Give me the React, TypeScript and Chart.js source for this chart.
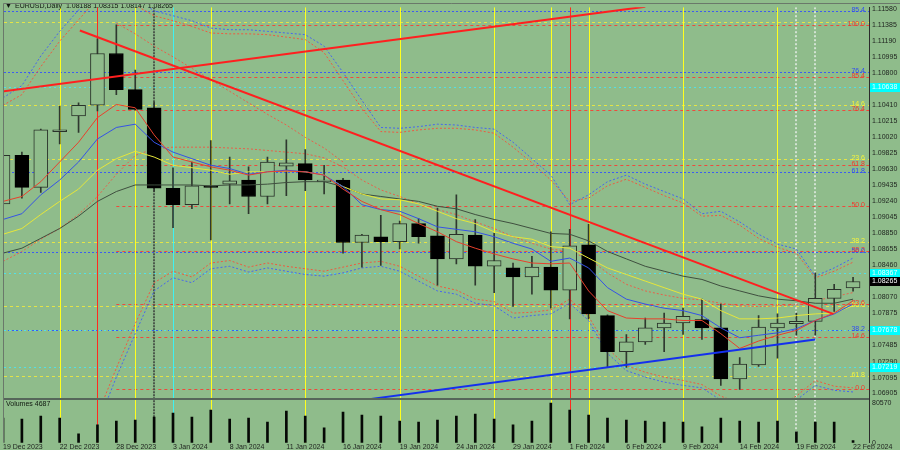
import React, { useEffect, useRef } from "react";
import { Chart, registerables } from "chart.js";

Chart.register(...registerables);

const FONT = "'Liberation Sans', Arial, sans-serif";
const BG = "#8fbc8b";

// ---------- data ----------
const dates = [
  "19 Dec 2023", "20 Dec 2023", "21 Dec 2023", "22 Dec 2023", "26 Dec 2023", "27 Dec 2023", "28 Dec 2023", "29 Dec 2023",
  "2 Jan 2024", "3 Jan 2024", "4 Jan 2024", "5 Jan 2024", "8 Jan 2024", "9 Jan 2024", "10 Jan 2024", "11 Jan 2024",
  "12 Jan 2024", "15 Jan 2024", "16 Jan 2024", "17 Jan 2024", "18 Jan 2024", "19 Jan 2024", "22 Jan 2024", "23 Jan 2024",
  "24 Jan 2024", "25 Jan 2024", "26 Jan 2024", "29 Jan 2024", "30 Jan 2024", "31 Jan 2024", "1 Feb 2024", "2 Feb 2024",
  "5 Feb 2024", "6 Feb 2024", "7 Feb 2024", "8 Feb 2024", "9 Feb 2024", "12 Feb 2024", "13 Feb 2024", "14 Feb 2024",
  "15 Feb 2024", "16 Feb 2024", "19 Feb 2024", "20 Feb 2024", "21 Feb 2024", "22 Feb 2024",
];
const dateTickIdx = [0, 3, 6, 9, 12, 15, 18, 21, 24, 27, 30, 33, 36, 39, 42, 45];

const opens = [1.0921, 1.0980, 1.0941, 1.1009, 1.1028, 1.1041, 1.1104, 1.1060, 1.1038, 1.0940, 1.0920, 1.0943, 1.0945, 1.0950, 1.0930, 1.0967, 1.0970, 1.0948, 1.0950, 1.0874, 1.0881, 1.0875, 1.0897, 1.0882, 1.0854, 1.0883, 1.0845, 1.0843, 1.0832, 1.0844, 1.0816, 1.0871, 1.0785, 1.0741, 1.0753, 1.0770, 1.0776, 1.0780, 1.0770, 1.0708, 1.0725, 1.0770, 1.0775, 1.0778, 1.0806, 1.08188];
const highs = [1.0987, 1.0984, 1.1012, 1.1040, 1.1044, 1.1122, 1.1139, 1.1084, 1.1045, 1.0965, 1.0972, 1.0998, 1.0978, 1.0966, 1.0978, 1.0999, 1.0987, 1.0968, 1.0952, 1.0884, 1.0907, 1.0900, 1.0903, 1.0916, 1.0932, 1.0902, 1.0885, 1.0849, 1.0857, 1.0887, 1.0890, 1.0896, 1.0786, 1.0762, 1.0782, 1.0788, 1.0794, 1.0805, 1.0799, 1.0734, 1.0785, 1.0787, 1.0788, 1.0837, 1.0823, 1.08315];
const lows = [1.0915, 1.0928, 1.0935, 1.0994, 1.1008, 1.1034, 1.1054, 1.1035, 1.0936, 1.0892, 1.0915, 1.0877, 1.0921, 1.0909, 1.0921, 1.0931, 1.0937, 1.0933, 1.0861, 1.0844, 1.0846, 1.0866, 1.0873, 1.0822, 1.0848, 1.0822, 1.0813, 1.0796, 1.0811, 1.0794, 1.0781, 1.0781, 1.0722, 1.0722, 1.0750, 1.0741, 1.0762, 1.0756, 1.0700, 1.0695, 1.0723, 1.0733, 1.0761, 1.0761, 1.0790, 1.08147];
const closes = [1.0980, 1.0941, 1.1011, 1.1011, 1.1041, 1.1104, 1.1060, 1.1036, 1.0940, 1.0920, 1.0943, 1.0941, 1.0949, 1.0930, 1.0972, 1.0971, 1.0950, 1.0950, 1.0874, 1.0883, 1.0875, 1.0897, 1.0881, 1.0854, 1.0884, 1.0845, 1.0852, 1.0832, 1.0844, 1.0816, 1.0870, 1.0787, 1.0741, 1.0753, 1.0770, 1.0776, 1.0784, 1.0770, 1.0708, 1.0726, 1.0771, 1.0776, 1.0778, 1.0806, 1.0817, 1.08265];
const volumes = [50350, 48340, 54380, 50350, 18130, 36250, 44310, 46320, 52360, 60420, 52360, 66460, 48340, 50350, 42290, 64450, 54380, 30210, 62430, 56390, 54380, 44310, 42290, 46320, 54380, 58410, 48340, 36250, 44310, 80570, 66460, 56390, 50350, 46320, 44310, 42290, 42290, 32220, 50350, 44310, 42290, 44310, 22150, 42290, 42290, 4687];

const maRed = [1.0924, 1.0930, 1.0948, 1.0972, 1.0996, 1.1026, 1.1042, 1.1038, 1.1005, 1.0978, 1.0972, 1.0966, 1.0962, 1.0956, 1.0960, 1.0961, 1.0960, 1.0956, 1.0939, 1.0924, 1.0914, 1.0908, 1.0897, 1.0887, 1.0875, 1.0867, 1.0860, 1.0854, 1.0849, 1.0848, 1.0849, 1.0815, 1.0791, 1.0782, 1.0781, 1.0781, 1.0779, 1.0779, 1.0763, 1.0745, 1.0754, 1.0761, 1.0767, 1.0779, 1.0788, 1.0803];
const maBlue = [1.0902, 1.0909, 1.0932, 1.0950, 1.0972, 1.1000, 1.1014, 1.1018, 1.0996, 1.0984, 1.0976, 1.0968, 1.0964, 1.0957, 1.0960, 1.0962, 1.0960, 1.0956, 1.0942, 1.0920, 1.0914, 1.0912, 1.0903, 1.0893, 1.0890, 1.0887, 1.0881, 1.0873, 1.0866, 1.0851, 1.0855, 1.0843, 1.0819, 1.0805, 1.0799, 1.0794, 1.0791, 1.0785, 1.0770, 1.0758, 1.0761, 1.0764, 1.0769, 1.0779, 1.0787, 1.0799];
const maYellow = [1.0884, 1.0891, 1.0908, 1.0924, 1.0939, 1.0962, 1.0976, 1.0985, 1.0978, 1.0968, 1.0965, 1.0962, 1.0957, 1.0960, 1.0960, 1.0961, 1.0960, 1.0956, 1.0942, 1.0933, 1.0927, 1.0926, 1.0921, 1.0912, 1.0903, 1.0897, 1.0887, 1.0881, 1.0878, 1.0869, 1.0867, 1.0855, 1.0843, 1.0835, 1.0827, 1.0819, 1.0811, 1.0805, 1.0791, 1.0781, 1.0781, 1.0782, 1.0785, 1.0787, 1.0788, 1.0797];
const maDark = [1.0861, 1.0867, 1.0879, 1.0891, 1.0906, 1.0924, 1.0936, 1.0944, 1.0944, 1.0944, 1.0944, 1.0943, 1.0944, 1.0944, 1.0945, 1.0947, 1.0948, 1.0948, 1.0942, 1.0933, 1.0930, 1.0927, 1.0924, 1.0918, 1.0915, 1.0908, 1.0902, 1.0897, 1.0891, 1.0885, 1.0884, 1.0876, 1.0863, 1.0854, 1.0845, 1.0839, 1.0833, 1.0829, 1.0821, 1.0815, 1.0809, 1.0805, 1.0803, 1.0800, 1.0800, 1.0805];

const bandUpperBlue = [1.1050, 1.1065, 1.1101, 1.1131, 1.1157, 1.1183, 1.1183, 1.1171, 1.1156, 1.1150, 1.1144, 1.1135, 1.1133, 1.1133, 1.1131, 1.1129, 1.1127, 1.1113, 1.1081, 1.1047, 1.1014, 1.1013, 1.1015, 1.1018, 1.1017, 1.1014, 1.1012, 1.0996, 1.0976, 1.0956, 1.0920, 1.0932, 1.0948, 1.0956, 1.0945, 1.0936, 1.0927, 1.0909, 1.0912, 1.0899, 1.0884, 1.0872, 1.0866, 1.0833, 1.0843, 1.0855];
const bandUpperRed = [1.1041, 1.1054, 1.1088, 1.1119, 1.1145, 1.1171, 1.1175, 1.1163, 1.1150, 1.1144, 1.1137, 1.1129, 1.1128, 1.1128, 1.1127, 1.1124, 1.1121, 1.1105, 1.1071, 1.1037, 1.1009, 1.1008, 1.1011, 1.1013, 1.1013, 1.1011, 1.1007, 1.0990, 1.0971, 1.0950, 1.0924, 1.0928, 1.0943, 1.0951, 1.0941, 1.0931, 1.0922, 1.0906, 1.0907, 1.0895, 1.0879, 1.0868, 1.0861, 1.0831, 1.0839, 1.0850];
const bandLowerBlue = [1.0646, 1.0634, 1.0622, 1.0616, 1.0628, 1.0652, 1.0710, 1.0763, 1.0815, 1.0831, 1.0825, 1.0842, 1.0845, 1.0838, 1.0843, 1.0839, 1.0835, 1.0833, 1.0837, 1.0843, 1.0845, 1.0839, 1.0827, 1.0815, 1.0811, 1.0800, 1.0797, 1.0782, 1.0785, 1.0787, 1.0800, 1.0779, 1.0739, 1.0718, 1.0710, 1.0704, 1.0700, 1.0697, 1.0682, 1.0674, 1.0670, 1.0670, 1.0682, 1.0700, 1.0694, 1.0692];
const bandLowerRed = [1.0655, 1.0643, 1.0631, 1.0625, 1.0637, 1.0664, 1.0721, 1.0775, 1.0825, 1.0839, 1.0832, 1.0849, 1.0852, 1.0844, 1.0849, 1.0845, 1.0842, 1.0839, 1.0844, 1.0849, 1.0851, 1.0845, 1.0833, 1.0821, 1.0816, 1.0805, 1.0802, 1.0788, 1.0789, 1.0792, 1.0805, 1.0784, 1.0745, 1.0724, 1.0716, 1.0710, 1.0706, 1.0701, 1.0687, 1.0678, 1.0675, 1.0675, 1.0687, 1.0706, 1.0699, 1.0697];
const innerRed = [1.0851, 1.0863, 1.0878, 1.0891, 1.0908, 1.0930, 1.0957, 1.0980, 1.0988, 1.0990, 1.0990, 1.0990, 1.0989, 1.0988, 1.0986, 1.0984, 1.0982, 1.0977, 1.0966, 1.0950, 1.0938, 1.0930, 1.0921, 1.0914, 1.0908, 1.0899, 1.0891, 1.0881, 1.0873, 1.0866, 1.0863, 1.0854, 1.0837, 1.0823, 1.0815, 1.0810, 1.0806, 1.0804, 1.0800, 1.0797, 1.0796, 1.0797, 1.0798, 1.0803, 1.0808, 1.0813];
const innerRedDiag = [null, null, null, null, null, null, 1.1141, 1.1128, 1.1113, 1.1100, 1.1086, 1.1072, 1.1058, 1.1044, 1.1030, 1.1017, 1.1002, 1.0989, 1.0972, null, null, null, null, null, null, null, null, null, null, null, null, null, null, null, null, null, null, null, null, null, null, null, null, null, null, null];

// trend lines (bar index, price)
const trendUpIdx = [0, 34];
const trendUpPrice = [1.1058, 1.1161];
const trendDownIdx = [4.07, 43.95];
const trendDownPrice = [1.1132, 1.0787];
const trendBlueIdx = [19, 43];
const trendBluePrice = [1.0682, 1.0756];

// fibonacci levels
const fibBlueLabels = ["85.4", "76.4", "61.8", "50.0", "38.2"];
const fibBluePrices = [1.1156, 1.1081, 1.0960, 1.0862, 1.0767];
const fibRedLabels = ["100.0", "85.4", "76.4", "61.8", "50.0", "38.2", "23.6", "14.6", "0.0"];
const fibRedPrices = [1.1139, 1.1075, 1.1035, 1.0968, 1.0918, 1.0864, 1.0799, 1.0759, 1.0695];
const fibRedStartIdx = 6;
const fibYellowLabels = ["", "14.6", "23.6", "38.2", "50.0", "61.8"];
const fibYellowPrices = [1.1143, 1.1041, 1.0976, 1.0875, 1.0797, 1.0712];
const cyanPrices = [1.10638, 1.08367, 1.07678, 1.07219];
const lastPrice = 1.08265;

// vertical markers (bar index)
const yellowV = [3, 7, 11, 16, 21, 26, 29, 31, 36, 41];
const redV = [5, 30];
const greyV = [8];
const cyanV = [9];
const paleV = [42, 43];

const priceTicks = [1.1158, 1.11385, 1.1119, 1.10995, 1.108, 1.10605, 1.1041, 1.10215, 1.1002, 1.09825, 1.0963, 1.09435, 1.0924, 1.09045, 1.0885, 1.08655, 1.0846, 1.08265, 1.0807, 1.07875, 1.0768, 1.07485, 1.0729, 1.07095, 1.06905];
const volumeTicks = [0, 80570];

const titleText = "EURUSD,Daily  1.08188 1.08315 1.08147 1.08265";
const volumeText = "Volumes 4687";

// ---------- view settings ----------
const X_MIN = 0.053;
const X_MAX = 45.844;
const P_MIN = 1.068326;
const P_MAX = 1.116042;
const V_MAX = 88627;

export default function App() {
  const ref = useRef<HTMLCanvasElement | null>(null);

  useEffect(() => {
    document.body.style.margin = "0";
    const canvas = ref.current;
    if (!canvas) return;
    const n = dates.length;
    const idx = Array.from({ length: n }, (_, i) => i);
    const pts = (arr: (number | null)[]) => idx.map((i) => ({ x: i, y: arr[i] }));
    const bull = (i: number) => closes[i] >= opens[i];

    const lineDs = (data: any, color: string, width: number, dash: number[], order: number) => ({
      type: "line" as const,
      data,
      borderColor: color,
      borderWidth: width,
      borderDash: dash,
      pointRadius: 0,
      tension: 0,
      fill: false,
      spanGaps: false,
      xAxisID: "x",
      yAxisID: "y",
      order,
    });

    const overlay = {
      id: "overlay",
      beforeDraw(chart: any) {
        const { ctx, width, height } = chart;
        ctx.save();
        ctx.fillStyle = BG;
        ctx.fillRect(0, 0, width, height);
        ctx.restore();
      },
      beforeDatasetsDraw(chart: any) {
        const { ctx, chartArea: ca } = chart;
        const xs = chart.scales.x;
        const ys = chart.scales.y;
        ctx.save();
        ctx.beginPath();
        ctx.rect(ca.left, ys.top, ca.right - ca.left, ys.bottom - ys.top);
        ctx.clip();
        const hline = (p: number, color: string, dash: number[], x0: number) => {
          const py = Math.round(ys.getPixelForValue(p)) + 0.5;
          ctx.strokeStyle = color;
          ctx.lineWidth = 1;
          ctx.setLineDash(dash);
          ctx.beginPath();
          ctx.moveTo(x0, py);
          ctx.lineTo(ca.right, py);
          ctx.stroke();
        };
        fibYellowPrices.forEach((p) => hline(p, "#e4e447", [3, 3], ca.left));
        fibBluePrices.forEach((p) => hline(p, "#3d5cf0", [2, 2], ca.left));
        cyanPrices.forEach((p) => hline(p, "#52e0e8", [2, 3], ca.left));
        const rx = xs.getPixelForValue(fibRedStartIdx);
        fibRedPrices.forEach((p) => hline(p, "#ef4a3c", [3, 3], rx));
        ctx.restore();

        ctx.save();
        ctx.beginPath();
        ctx.rect(ca.left, ca.top, ca.right - ca.left, ca.bottom - ca.top);
        ctx.clip();
        const vline = (i: number, color: string, w: number, dash: number[]) => {
          const px = Math.round(xs.getPixelForValue(i)) + (w % 2 ? 0.5 : 0);
          ctx.strokeStyle = color;
          ctx.lineWidth = w;
          ctx.setLineDash(dash);
          ctx.beginPath();
          ctx.moveTo(px, ca.top);
          ctx.lineTo(px, ca.bottom);
          ctx.stroke();
        };
        yellowV.forEach((i) => vline(i, "#ffff1e", 1, []));
        redV.forEach((i) => vline(i, "#ff2a1e", 1, []));
        greyV.forEach((i) => vline(i, "#4c5a4c", 2, [2, 1]));
        cyanV.forEach((i) => vline(i, "#3ef2f2", 1, []));
        paleV.forEach((i) => vline(i, "#d2e2d2", 2, [2, 2]));
        ctx.restore();
      },
      afterDatasetsDraw(chart: any) {
        const { ctx, chartArea: ca } = chart;
        const ys = chart.scales.y;
        ctx.save();
        // panel separator
        ctx.fillStyle = "#56665a";
        ctx.fillRect(ca.left, Math.round(ys.bottom) - 1, ca.right - ca.left, 2);
        // fib labels
        ctx.font = `7px ${FONT}`;
        ctx.textAlign = "right";
        ctx.textBaseline = "alphabetic";
        const lab = (p: number, t: string, color: string) => {
          if (!t) return;
          const py = Math.round(ys.getPixelForValue(p));
          ctx.fillStyle = color;
          ctx.fillText(t, ca.right - 4, py + 1);
        };
        fibYellowPrices.forEach((p, k) => lab(p, fibYellowLabels[k], "#f4f43c"));
        fibBluePrices.forEach((p, k) => lab(p, fibBlueLabels[k], "#2f4cf2"));
        fibRedPrices.forEach((p, k) => lab(p, fibRedLabels[k], "#f23a2c"));
        // title and volume caption
        ctx.textAlign = "left";
        ctx.textBaseline = "middle";
        ctx.fillStyle = "#101810";
        ctx.font = `7px ${FONT}`;
        ctx.fillText("\u25BC", 5, 6);
        ctx.fillText(titleText, 15, 6);
        ctx.fillText(volumeText, 6, Math.round(ys.bottom) + 5);
        ctx.restore();
      },
      afterDraw(chart: any) {
        const { ctx, chartArea: ca } = chart;
        const ys = chart.scales.y;
        ctx.save();
        ctx.font = `7px ${FONT}`;
        ctx.textAlign = "left";
        ctx.textBaseline = "middle";
        const box = (p: number, bg: string, fg: string) => {
          const py = Math.round(ys.getPixelForValue(p));
          ctx.fillStyle = bg;
          ctx.fillRect(ca.right + 1, py - 4, 31, 9);
          ctx.fillStyle = fg;
          ctx.fillText(p.toFixed(5), ca.right + 3, py + 0.5);
        };
        cyanPrices.forEach((p) => box(p, "#00ffff", "#e8ffff"));
        box(lastPrice, "#000000", "#ffffff");
        // frame
        ctx.strokeStyle = "#6a786a";
        ctx.lineWidth = 1;
        ctx.beginPath();
        ctx.moveTo(3.5, ca.bottom);
        ctx.lineTo(3.5, 3.5);
        ctx.lineTo(chart.width, 3.5);
        ctx.stroke();
        ctx.restore();
      },
    };

    const tickFont = { size: 7, family: FONT };

    const chart = new Chart(canvas, {
      type: "bar",
      data: {
        datasets: [
          lineDs(trendDownIdx.map((x, k) => ({ x, y: trendDownPrice[k] })), "#ff1f1f", 2, [], 0),
          lineDs(trendUpIdx.map((x, k) => ({ x, y: trendUpPrice[k] })), "#ff1f1f", 2, [], 0),
          lineDs(trendBlueIdx.map((x, k) => ({ x, y: trendBluePrice[k] })), "#1430ee", 2, [], 0),
          lineDs(pts(maRed), "#e8402c", 1, [], 1),
          lineDs(pts(maBlue), "#3552e6", 1, [], 1),
          lineDs(pts(maYellow), "#e6e63a", 1, [], 1),
          lineDs(pts(maDark), "#3f4f3f", 1, [], 1),
          {
            type: "bar" as const,
            data: idx.map((i) => ({ x: i, y: [opens[i], closes[i]] })),
            xAxisID: "x",
            yAxisID: "y",
            barThickness: 14,
            grouped: false,
            borderSkipped: false,
            borderWidth: 1,
            backgroundColor: (c: any) => (bull(c.dataIndex) ? BG : "#000000"),
            borderColor: (c: any) => (bull(c.dataIndex) ? "#2a322a" : "#000000"),
            order: 2,
          },
          {
            type: "bar" as const,
            data: idx.map((i) => ({ x: i, y: [lows[i], highs[i]] })),
            xAxisID: "x",
            yAxisID: "y",
            barThickness: 1,
            grouped: false,
            borderWidth: 0,
            backgroundColor: "#2f382f",
            order: 3,
          },
          lineDs(pts(bandUpperBlue), "#4766ee", 1, [2, 2], 4),
          lineDs(pts(bandUpperRed), "#ee5a40", 1, [2, 2], 4),
          lineDs(pts(bandLowerBlue), "#4766ee", 1, [2, 2], 4),
          lineDs(pts(bandLowerRed), "#ee5a40", 1, [2, 2], 4),
          lineDs(pts(innerRed), "#e8604a", 1, [2, 2], 4),
          lineDs(pts(innerRedDiag), "#e8604a", 1, [2, 2], 4),
          {
            type: "bar" as const,
            data: idx.map((i) => ({ x: i, y: volumes[i] })),
            xAxisID: "x",
            yAxisID: "yv",
            barThickness: 2,
            grouped: false,
            borderWidth: 0,
            backgroundColor: "#050805",
            order: 5,
          },
        ] as any,
      },
      options: {
        responsive: false,
        maintainAspectRatio: false,
        animation: false,
        events: [],
        layout: { padding: { left: 4, top: 4, right: 0, bottom: 0 } },
        plugins: { legend: { display: false }, tooltip: { enabled: false } },
        scales: {
          x: {
            type: "linear",
            min: X_MIN,
            max: X_MAX,
            offset: false,
            grid: { display: false, drawTicks: false },
            border: { display: false },
            ticks: {
              autoSkip: false,
              maxRotation: 0,
              minRotation: 0,
              align: "start",
              padding: 0,
              color: "#1e221e",
              font: tickFont,
              callback: (v: any) => dates[Math.round(Number(v))] ?? "",
            },
            afterBuildTicks: (s: any) => {
              s.ticks = dateTickIdx.map((v) => ({ value: v }));
            },
            afterFit: (s: any) => {
              s.height = 7;
            },
          },
          y: {
            type: "linear",
            position: "right",
            stack: "panes",
            stackWeight: 395,
            min: P_MIN,
            max: P_MAX,
            beginAtZero: false,
            grid: { display: false, drawTicks: false },
            border: { display: true, color: "#2c2c2c", width: 1 },
            ticks: {
              autoSkip: false,
              padding: 3,
              color: "#1e221e",
              font: tickFont,
              callback: (v: any) => Number(v).toFixed(5),
            },
            afterBuildTicks: (s: any) => {
              s.ticks = priceTicks.map((v) => ({ value: v }));
            },
            afterFit: (s: any) => {
              s.width = 31;
            },
          },
          yv: {
            type: "linear",
            position: "right",
            stack: "panes",
            stackWeight: 44,
            min: 0,
            max: V_MAX,
            grid: { display: false, drawTicks: false },
            border: { display: true, color: "#2c2c2c", width: 1 },
            ticks: {
              autoSkip: false,
              padding: 3,
              color: "#1e221e",
              font: tickFont,
              callback: (v: any) => String(v),
            },
            afterBuildTicks: (s: any) => {
              s.ticks = volumeTicks.map((v) => ({ value: v }));
            },
            afterFit: (s: any) => {
              s.width = 31;
            },
          },
        } as any,
      },
      plugins: [overlay],
    });

    return () => chart.destroy();
  }, []);

  return (
    <div style={{ width: 900, height: 450, background: BG, overflow: "hidden" }}>
      <canvas ref={ref} width={900} height={450} style={{ display: "block", width: 900, height: 450 }} />
    </div>
  );
}
